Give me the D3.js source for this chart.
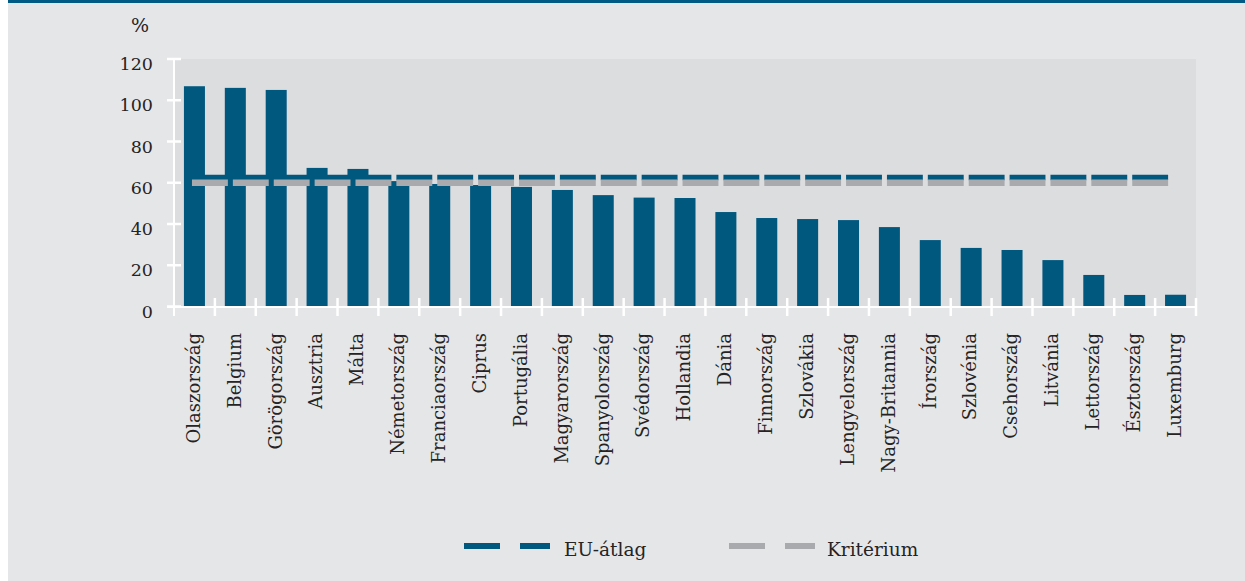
<!DOCTYPE html>
<html>
<head>
<meta charset="utf-8">
<script src="https://cdnjs.cloudflare.com/ajax/libs/d3/7.8.5/d3.min.js"></script>
<style>
  html, body { margin: 0; padding: 0; background: #ffffff; }
  svg { display: block; }
  text { font-family: "DejaVu Serif", serif; fill: #262324; }
</style>
</head>
<body>
<div id="chart-area"></div>
<script>
// Data
const countries = [
  "Olaszország", "Belgium", "Görögország", "Ausztria", "Málta",
  "Németország", "Franciaország", "Ciprus", "Portugália", "Magyarország",
  "Spanyolország", "Svédország", "Hollandia", "Dánia", "Finnország",
  "Szlovákia", "Lengyelország", "Nagy-Britannia", "Írország", "Szlovénia",
  "Csehország", "Litvánia", "Lettország", "Észtország", "Luxemburg"
];
const debt = [
  106.8, 106.0, 105.0, 67.2, 66.7,
  60.8, 59.4, 58.9, 58.0, 56.5,
  54.0, 52.8, 52.6, 45.8, 42.9,
  42.4, 41.9, 38.5, 32.2, 28.4,
  27.4, 22.5, 15.3, 5.6, 5.7
];
const euAverage = 62.5;
const criterion = 60;
const yTicks = [0, 20, 40, 60, 80, 100, 120];
const legendItems = ["EU-átlag", "Kritérium"];

const W = 1245, H = 581;
const margin = { top: 59, right: 49, bottom: 274.5, left: 174 };
const width = W - margin.left - margin.right,
  height = H - margin.top - margin.bottom;

const blue = "#00587f";
const grey = "#a9aaad";

const svg = d3
  .select("#chart-area")
  .append("svg")
  .attr("width", W)
  .attr("height", H);

// panel + top rule
svg.append("rect")
  .attr("x", 8).attr("y", 0)
  .attr("width", W - 8).attr("height", H)
  .attr("fill", "#e5e6e8");
svg.append("rect")
  .attr("x", 8).attr("y", 0)
  .attr("width", W - 8).attr("height", 3)
  .attr("fill", "#005a84");

const g = svg
  .append("g")
  .attr("transform", `translate(${margin.left}, ${margin.top})`);

// Scales
const xCat = d3.scaleBand().domain(countries).range([0, width]).padding(0);
const x = d3.scaleBand().domain(countries).range([0, width])
  .paddingInner(0.486).paddingOuter(0.243);
const y = d3.scaleLinear().domain([0, 120]).range([height, 0]);
const step = xCat.step();

// plot background
g.append("rect")
  .attr("width", width)
  .attr("height", height)
  .attr("fill", "#dcdddf");

// Bars
g.selectAll("rect.bar")
  .data(countries.map((c, i) => ({ c, v: debt[i] })))
  .enter()
  .append("rect")
  .attr("class", "bar")
  .attr("x", d => x(d.c))
  .attr("width", x.bandwidth())
  .attr("y", d => y(d.v))
  .attr("height", d => y(0) - y(d.v))
  .attr("fill", blue);

// dashed reference lines
const dashX = c => xCat(c) + step * 0.44;
const refLine = v => d3.line().x(c => dashX(c)).y(() => y(v));
const dash = `${step - 5} 5`;

g.append("path")
  .attr("d", refLine(euAverage)(countries))
  .attr("fill", "none")
  .attr("stroke", blue)
  .attr("stroke-width", 5.5)
  .attr("stroke-dasharray", dash);

g.append("path")
  .attr("d", refLine(criterion)(countries))
  .attr("fill", "none")
  .attr("stroke", grey)
  .attr("stroke-width", 6.5)
  .attr("stroke-dasharray", dash);

// Y axis
const yAxis = g.append("g").attr("class", "y axis");
yAxis.append("line")
  .attr("x1", 0).attr("x2", 0)
  .attr("y1", y(120)).attr("y2", y(0) + 9.5)
  .attr("stroke", "#fff").attr("stroke-width", 2);
yAxis.selectAll("line.tick")
  .data(yTicks)
  .enter()
  .append("line")
  .attr("class", "tick")
  .attr("x1", -7).attr("x2", 7)
  .attr("y1", d => y(d)).attr("y2", d => y(d))
  .attr("stroke", "#fff").attr("stroke-width", 2.5);
yAxis.selectAll("text")
  .data(yTicks)
  .enter()
  .append("text")
  .attr("x", -21)
  .attr("y", d => y(d) + 11)
  .attr("text-anchor", "end")
  .attr("font-size", "17.5px")
  .text(d => d);

g.append("text")
  .attr("x", -34)
  .attr("y", 32 - margin.top)
  .attr("text-anchor", "middle")
  .attr("font-size", "19px")
  .text("%");

// X axis
const xAxis = g.append("g").attr("class", "x axis")
  .attr("transform", `translate(0,${height})`);
xAxis.append("line")
  .attr("x1", -7).attr("x2", width)
  .attr("y1", 0.5).attr("y2", 0.5)
  .attr("stroke", "#fff").attr("stroke-width", 2);
xAxis.selectAll("line.tick")
  .data(countries.slice(1).concat([null]))
  .enter()
  .append("line")
  .attr("class", "tick")
  .attr("x1", (d, i) => (i + 1) * step)
  .attr("x2", (d, i) => (i + 1) * step)
  .attr("y1", -8.5).attr("y2", 9.5)
  .attr("stroke", "#fff").attr("stroke-width", 2.5);
xAxis.selectAll("text")
  .data(countries)
  .enter()
  .append("text")
  .attr("transform", d => `translate(${xCat(d) + step / 2 - 1},26.5) rotate(-90)`)
  .attr("text-anchor", "end")
  .attr("dy", "0.35em")
  .attr("font-size", "18px")
  .text(d => d);

// Legend
const legend = svg.append("g").attr("class", "legend");
const legendX = [464, 729];
const legendColors = [blue, grey];
legendItems.forEach((name, i) => {
  const lg = legend.append("g").attr("transform", `translate(${legendX[i]},546)`);
  lg.append("line")
    .attr("x1", 0).attr("x2", 36).attr("y1", 0).attr("y2", 0)
    .attr("stroke", legendColors[i]).attr("stroke-width", 6);
  lg.append("line")
    .attr("x1", 56).attr("x2", 86).attr("y1", 0).attr("y2", 0)
    .attr("stroke", legendColors[i]).attr("stroke-width", 6);
  lg.append("text")
    .attr("x", i === 0 ? 100 : 98)
    .attr("y", 10)
    .attr("font-size", "18.5px")
    .text(name);
});
</script>
</body>
</html>
